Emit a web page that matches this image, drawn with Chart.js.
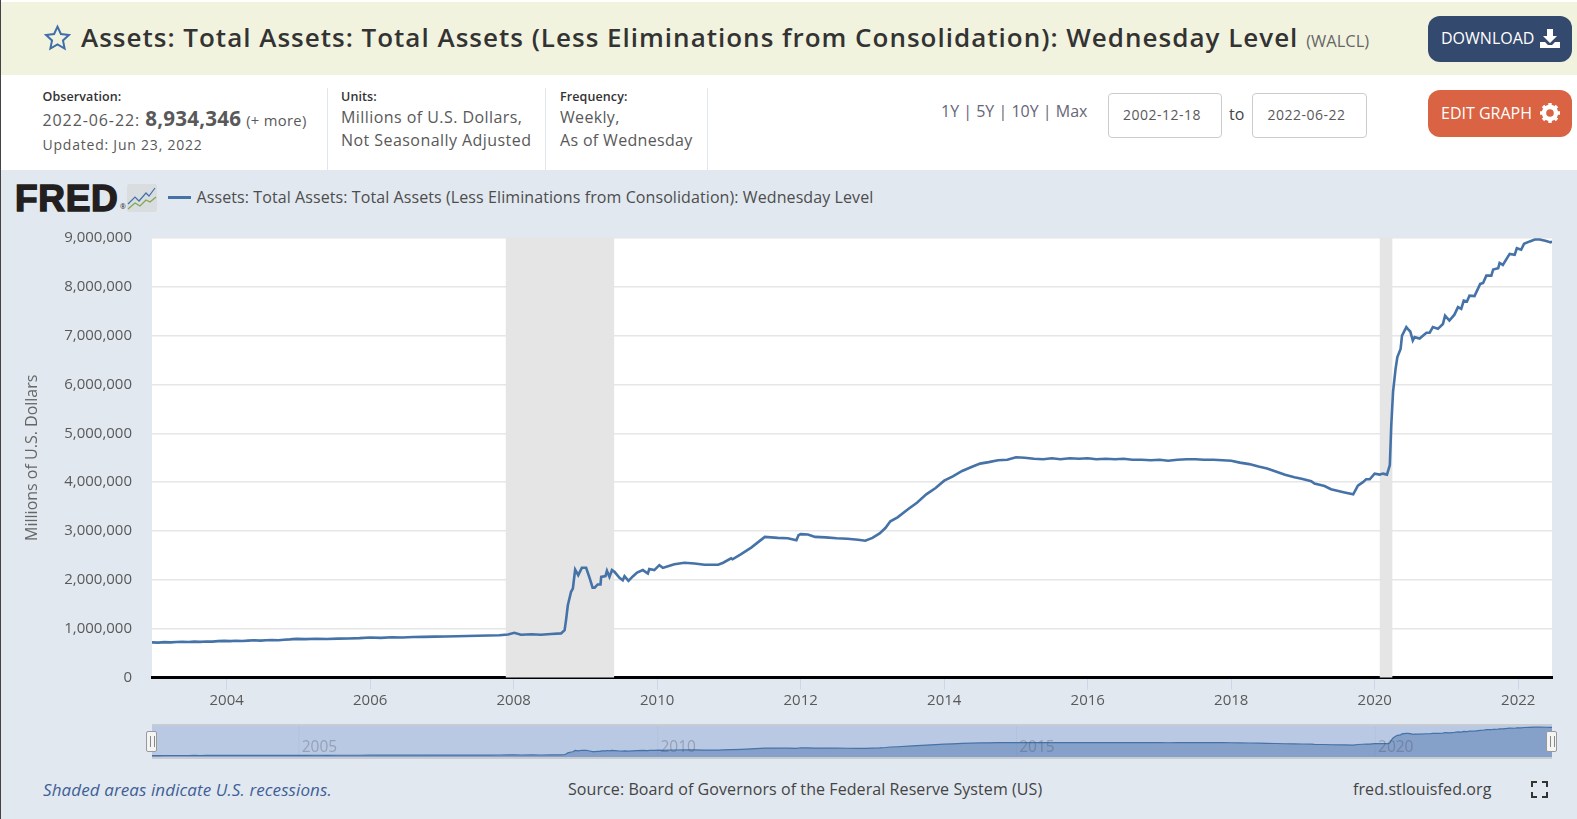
<!DOCTYPE html>
<html>
<head>
<meta charset="utf-8">
<title>WALCL</title>
<script src="https://cdn.jsdelivr.net/npm/chart.js@4"></script>
<style>
    *{padding:0; margin:0; box-sizing:border-box;}
    html,body{width:1577px; height:819px; overflow:hidden; background:#fff; font-family:"Open Sans",sans-serif; color:#595959;}
    .t{position:absolute; white-space:nowrap;}
    #leftEdge{position:absolute; left:0; top:0; width:1px; height:819px; background:#444; z-index:5;}
    #head{position:absolute; left:0; top:2px; width:1577px; height:73px; background:#f2f3df;}
    #graphBg{position:absolute; left:0; top:170px; width:1577px; height:649px; background:#e1e8f0;}
    .divider{position:absolute; top:88px; width:1px; height:82px; background:#dfe6ee;}
    .small{font-size:12.5px; font-weight:600; color:#333; letter-spacing:.1px;}
    .info{font-size:16px; letter-spacing:.44px;}
    .box{position:absolute; top:93px; height:45px; border:1px solid #ccc; border-radius:4px; background:#fff; font-size:14px; letter-spacing:.5px; line-height:41px; text-align:center; padding-right:6px;}
    .btn{position:absolute; left:1428px; width:144px; border-radius:12px; color:#fff; font-size:16px;}
    .btn span{position:absolute; left:13px; white-space:nowrap;}
    .btn svg{position:absolute; left:112px;}
    #mainWrap{position:absolute; left:0; top:209px; width:1577px; height:506px;}
    #navWrap{position:absolute; left:152px; top:725px; width:1400px; height:33px; background:#bac9e3;}
    #navFrame{position:absolute; left:152px; top:724px; width:1400px; height:35px; border-top:2px solid #c8ccd2; border-bottom:2px solid #c8ccd2;}
    .handle{position:absolute; top:731px; width:11px; height:21px; background:#f4f4f4; border:1px solid #999; border-radius:2px; z-index:3;}
    .handle:after{content:""; position:absolute; left:3px; top:4px; width:3px; height:11px; border-left:1px solid #888; border-right:1px solid #888;}
</style>
</head>
<body>
<div id="leftEdge"></div>
<div id="head"></div>
<div id="graphBg"></div>

<svg class="t" style="left:43px;top:24px" width="29" height="28" viewBox="0 0 24 24"><path d="M12 2.2l2.9 6.4 6.9.8-5.1 4.7 1.4 6.9-6.1-3.5-6.1 3.5 1.4-6.9-5.1-4.7 6.9-.8z" fill="none" stroke="#3f6ea8" stroke-width="1.7"/></svg>
<div class="t" id="title" style="left:81px;top:18px;font-size:26px;font-weight:600;color:#333;line-height:38px;letter-spacing:1px">Assets: Total Assets: Total Assets (Less Eliminations from Consolidation): Wednesday Level <span style="font-size:16.5px;font-weight:400;color:#666;letter-spacing:0">(WALCL)</span></div>

<div class="btn" style="top:16px;height:46px;background:#34496e"><span style="top:11px">DOWNLOAD</span>
<svg style="top:12px" width="20" height="21" viewBox="0 0 20 21"><path d="M7 1h6v7h4l-7 7-7-7h4z" fill="#fff"/><path d="M0 14h5l3 3h4l3-3h5v6H0z" fill="#fff"/></svg></div>
<div class="btn" style="top:90px;height:47px;background:#d96342"><span style="top:12px">EDIT GRAPH</span>
<svg style="top:13px" width="20" height="20" viewBox="0 0 20 20"><circle cx="10" cy="10" r="6" fill="none" stroke="#fff" stroke-width="4.4"/><path d="M10 0v4M10 16v4M0 10h4M16 10h4M3 3l3 3M14 14l3 3M17 3l-3 3M6 14l-3 3" stroke="#fff" stroke-width="3.4"/></svg></div>

<div class="t small" style="left:42.5px;top:88px">Observation:</div>
<div class="t" style="left:42.5px;top:104px;font-size:16px;letter-spacing:.9px">2022-06-22: <b style="font-size:20.6px;color:#595959;letter-spacing:.2px">8,934,346</b> <span style="font-size:14.8px;letter-spacing:.3px">(+ more)</span></div>
<div class="t" style="left:42.5px;top:135px;font-size:14px;letter-spacing:.78px">Updated: Jun 23, 2022</div>
<div class="divider" style="left:327px"></div>
<div class="t small" style="left:341px;top:88px">Units:</div>
<div class="t info" style="left:341px;top:106px">Millions of U.S. Dollars,</div>
<div class="t info" style="left:341px;top:129px">Not Seasonally Adjusted</div>
<div class="divider" style="left:545px"></div>
<div class="t small" style="left:560px;top:88px">Frequency:</div>
<div class="t info" style="left:560px;top:106px;letter-spacing:.33px">Weekly,</div>
<div class="t info" style="left:560px;top:129px;letter-spacing:.33px">As of Wednesday</div>
<div class="divider" style="left:707px"></div>
<div class="t" style="left:941px;top:100px;font-size:16px;letter-spacing:0;color:#667">1Y | 5Y | 10Y | Max</div>
<div class="box" style="left:1108px;width:114px">2002-12-18</div>
<div class="t" style="left:1229px;top:103px;font-size:16px;color:#444">to</div>
<div class="box" style="left:1252px;width:115px">2022-06-22</div>

<div class="t" style="left:15px;top:178px;font-family:'Liberation Sans';font-weight:700;font-size:37px;letter-spacing:.7px;color:#231f20;-webkit-text-stroke:1.5px #231f20">FRED</div>
<div class="t" style="left:120px;top:202px;font-size:7px;color:#231f20">®</div>
<svg class="t" style="left:127px;top:184px" width="30" height="28" viewBox="0 0 30 28"><rect width="30" height="28" rx="2" fill="#d9dde0"/><path d="M1 20l7-7 4 4 7-8 3 3 6-8" fill="none" stroke="#4572a7" stroke-width="1.2"/><path d="M1 25l7-6 5 3 6-6 4 2 6-5" fill="none" stroke="#7fa650" stroke-width="1.2"/></svg>
<div class="t" style="left:168px;top:196px;width:23px;height:3px;background:#4572a7"></div>
<div class="t" id="legendText" style="left:196.5px;top:186px;font-size:16px;line-height:22px;letter-spacing:.09px;color:#4d4d4d">Assets: Total Assets: Total Assets (Less Eliminations from Consolidation): Wednesday Level</div>

<div id="mainWrap"><canvas id="chart"></canvas></div>
<div id="navWrap"><canvas id="nav"></canvas></div>
<div id="navFrame"></div>
<div class="handle" style="left:146px"></div>
<div class="handle" style="left:1546px"></div>

<div class="t" style="left:43px;top:778px;font-size:17px;font-style:italic;letter-spacing:.1px;color:#3f5f96">Shaded areas indicate U.S. recessions.</div>
<div class="t" style="left:568px;top:778px;font-size:16px;letter-spacing:.08px;color:#444">Source: Board of Governors of the Federal Reserve System (US)</div>
<div class="t" style="left:1353px;top:778px;font-size:16px;letter-spacing:.1px;color:#444">fred.stlouisfed.org</div>
<svg class="t" style="left:1531px;top:781px" width="17" height="17" viewBox="0 0 17 17"><path d="M1 6V1h5M11 1h5v5M16 11v5h-5M6 16H1v-5" fill="none" stroke="#333" stroke-width="2"/></svg>

<script>
    // decimal years and millions of dollars
    var dates = [
        2002.96,2003.05,2003.13,2003.22,2003.3,2003.38,2003.47,2003.55,2003.63,2003.72,2003.8,2003.88,2003.97,
        2004.05,2004.13,2004.22,2004.3,2004.38,2004.47,2004.55,2004.63,2004.72,2004.8,2004.88,2004.97,
        2005.1,2005.25,2005.4,2005.55,2005.7,2005.85,2006.0,2006.15,2006.3,2006.45,2006.6,2006.75,2006.9,
        2007.05,2007.2,2007.35,2007.5,2007.65,2007.8,2007.92,2008.01,2008.1,2008.25,2008.38,2008.52,2008.66,
        2008.71,2008.73,2008.755,2008.8,2008.825,2008.857,2008.9,2008.95,2009.01,2009.06,2009.1,2009.13,2009.17,2009.21,2009.22,
        2009.28,2009.3,2009.335,2009.37,2009.405,2009.475,2009.52,2009.545,2009.6,2009.66,2009.72,2009.8,2009.87,2009.89,2009.96,
        2010.03,2010.08,2010.15,2010.24,2010.38,2010.52,2010.66,2010.85,2010.92,2011.03,2011.05,2011.17,2011.31,2011.5,2011.68,2011.82,2011.94,2011.97,
        2012.0,2012.1,2012.2,2012.35,2012.5,2012.65,2012.8,2012.9,2013.0,2013.1,2013.18,2013.25,2013.35,2013.5,2013.62,2013.75,2013.88,
        2014.0,2014.12,2014.25,2014.38,2014.5,2014.62,2014.75,2014.88,2015.0,2015.12,2015.25,2015.38,2015.5,2015.62,2015.75,2015.88,
        2016.0,2016.12,2016.25,2016.38,2016.5,2016.62,2016.75,2016.88,2017.0,2017.12,2017.25,2017.38,2017.5,2017.62,2017.75,2017.88,
        2018.0,2018.12,2018.25,2018.38,2018.5,2018.62,2018.75,2018.88,2018.98,2019.115,2019.16,2019.3,2019.39,2019.58,2019.7,2019.765,2019.835,2019.88,2019.93,2019.998,
        2020.07,2020.115,2020.17,2020.21,2020.23,2020.255,2020.29,2020.315,2020.36,2020.38,2020.44,2020.46,2020.495,2020.53,2020.555,2020.625,2020.72,2020.765,2020.81,2020.88,2020.95,2020.98,
        2021.04,2021.11,2021.16,2021.205,2021.24,2021.285,2021.32,2021.39,2021.47,2021.51,2021.555,2021.625,2021.65,2021.72,2021.74,2021.785,2021.88,2021.95,2021.98,
        2022.04,2022.08,2022.16,2022.23,2022.3,2022.39,2022.45,2022.47
    ];
    var assets = [
        .72,.714,.724,.72,.728,.732,.726,.735,.73,.738,.735,.745,.75,
        .745,.752,.748,.756,.762,.755,.763,.768,.762,.774,.78,.79,
        .785,.793,.788,.797,.8,.806,.82,.812,.823,.818,.828,.832,.838,
        .84,.846,.85,.856,.86,.866,.882,.915,.875,.885,.876,.89,.903,
        .971,1.176,1.48,1.755,1.82,2.21,2.096,2.246,2.246,2.03,1.84,1.84,1.905,1.905,2.06,
        2.076,2.185,2.06,2.2,2.164,2.04,1.99,2.076,1.98,2.07,2.15,2.2,2.13,2.22,2.2,
        2.3,2.245,2.28,2.32,2.35,2.335,2.31,2.31,2.35,2.44,2.42,2.526,2.66,2.88,2.86,2.85,2.81,2.915,
        2.935,2.93,2.88,2.87,2.85,2.84,2.82,2.8,2.86,2.95,3.06,3.2,3.28,3.45,3.58,3.75,3.88,
        4.03,4.12,4.23,4.31,4.38,4.41,4.45,4.46,4.51,4.5,4.48,4.47,4.49,4.47,4.49,4.48,
        4.49,4.47,4.48,4.47,4.48,4.46,4.46,4.45,4.46,4.44,4.46,4.47,4.47,4.46,4.46,4.45,
        4.44,4.4,4.37,4.32,4.28,4.22,4.15,4.1,4.07,4.02,3.97,3.92,3.855,3.79,3.75,3.93,4.0,4.06,4.06,4.175,
        4.155,4.175,4.155,4.35,5.16,5.85,6.32,6.56,6.73,7.0,7.175,7.14,7.085,6.9,6.97,6.94,7.06,7.06,7.175,7.14,7.24,7.41,
        7.31,7.43,7.585,7.55,7.72,7.7,7.82,7.81,8.06,8.08,8.23,8.23,8.355,8.38,8.49,8.45,8.675,8.655,8.79,
        8.76,8.88,8.93,8.97,8.97,8.94,8.91,8.934
    ];
    var valueTicks = [0,1,2,3,4,5,6,7,8,9];
    var yearTicks = [2004,2006,2008,2010,2012,2014,2016,2018,2020,2022];
    var navYears = [2005,2010,2015,2020];
    var recessions = [[2007.89,2009.4],[2020.07,2020.245]];
    var seriesName = "Assets: Total Assets: Total Assets (Less Eliminations from Consolidation): Wednesday Level";
    var firstDate = 2002.96, lastDate = 2022.47;

    var points = dates.map(function(d, i) { return {x: d, y: assets[i]}; });

    var shadePlugin = {
        id: "shade",
        beforeDraw: function(c) {
            var a = c.chartArea, g = c.ctx;
            g.save();
            g.fillStyle = "#fff";
            g.fillRect(a.left, a.top, a.right - a.left, a.bottom - a.top);
            g.restore();
        },
        beforeDatasetsDraw: function(c) {
            var a = c.chartArea, g = c.ctx;
            g.save();
            g.fillStyle = "#e5e5e5";
            recessions.forEach(function(r) {
                var x0 = c.scales.x.getPixelForValue(r[0]), x1 = c.scales.x.getPixelForValue(r[1]);
                g.fillRect(x0, a.top, x1 - x0, a.bottom - a.top);
            });
            g.restore();
        }
    };

    var navLabels = {
        id: "navLabels",
        afterDatasetsDraw: function(c) {
            var g = c.ctx;
            g.save();
            g.font = "15.5px 'Open Sans'";
            g.textAlign = "center";
            g.textBaseline = "middle";
            navYears.forEach(function(y) {
                var px = c.scales.x.getPixelForValue(y);
                g.fillStyle = "rgba(120,130,150,.08)";
                g.fillRect(px, 0, 1, c.height);
                g.fillStyle = "rgba(70,75,90,.32)";
                g.fillText(String(y), px + 21, 23);
            });
            g.restore();
        }
    };

    var mainCanvas = document.getElementById("chart");
    mainCanvas.width = 1577; mainCanvas.height = 506;
    mainCanvas.style.width = "1577px"; mainCanvas.style.height = "506px";
    new Chart(mainCanvas, {
        type: "line",
        data: {datasets: [{label: seriesName, data: points, borderColor: "#4572a7", borderWidth: 2.6, pointRadius: 0, tension: 0, fill: false}]},
        plugins: [shadePlugin],
        options: {
            responsive: false, animation: false, devicePixelRatio: 1,
            layout: {autoPadding: false, padding: {top: 12.5, right: 25, left: 0, bottom: 0}},
            plugins: {legend: {display: false}, tooltip: {enabled: false}},
            scales: {
                x: {
                    type: "linear", min: firstDate, max: lastDate,
                    afterBuildTicks: function(s) { s.ticks = yearTicks.map(function(v) { return {value: v}; }); },
                    afterFit: function(s) { s.height = 37.5; },
                    grid: {drawOnChartArea: false, color: "#ccd6eb", tickLength: 12},
                    border: {color: "#000", width: 3},
                    ticks: {maxRotation: 0, autoSkip: false, padding: 2, color: "#595959", font: {family: "Open Sans", size: 15},
                        callback: function(v) { return String(v); }}
                },
                y: {
                    min: 0, max: 9,
                    afterBuildTicks: function(s) { s.ticks = valueTicks.map(function(v) { return {value: v}; }); },
                    afterFit: function(s) { s.width = 152; },
                    grid: {color: "#e6e6e6", lineWidth: 1.5, tickLength: 0},
                    border: {display: false},
                    title: {display: true, text: "Millions of U.S. Dollars", color: "#666", font: {family: "Open Sans", size: 16}, padding: {top: 23, bottom: 0}},
                    ticks: {padding: 20, color: "#595959", font: {family: "Open Sans", size: 15},
                        callback: function(v) { return (v * 1000000).toLocaleString("en-US"); }}
                }
            }
        }
    });

    var navCanvas = document.getElementById("nav");
    navCanvas.width = 1400; navCanvas.height = 33;
    navCanvas.style.width = "1400px"; navCanvas.style.height = "33px";
    new Chart(navCanvas, {
        type: "line",
        data: {datasets: [{data: points, borderColor: "#4572a7", borderWidth: 1.2, backgroundColor: "#85a0c9", pointRadius: 0, tension: 0, fill: "origin"}]},
        plugins: [navLabels],
        options: {
            responsive: false, animation: false, devicePixelRatio: 1,
            layout: {padding: 0},
            plugins: {legend: {display: false}, tooltip: {enabled: false}},
            scales: {
                x: {type: "linear", display: false, min: firstDate, max: lastDate},
                y: {display: false, min: 0, max: 9.6}
            }
        }
    });
</script>
</body>
</html>
